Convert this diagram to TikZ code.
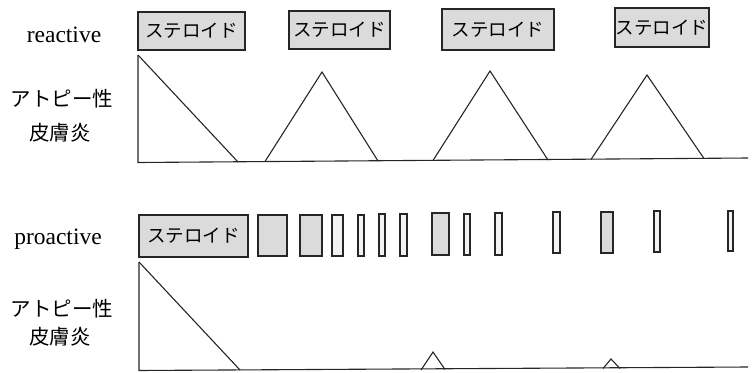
\documentclass[tikz,border=0pt]{standalone}
\usepackage{fontspec}
\setmainfont{Liberation Serif}
\newfontfamily\jp{Noto Sans CJK JP}
\begin{document}
\begin{tikzpicture}[x=1pt,y=-1pt,
  ln/.style={line width=1.1pt, black!85},
  sbox/.style={draw=black!85, line width=1.1pt, fill=gray!28, inner sep=0pt, font=\jp\fontsize{18.5}{18.5}\selectfont},
  lbox/.style={draw=black!85, line width=1.1pt, fill=gray!10, inner sep=0pt},
  eng/.style={font=\fontsize{23.5}{23.5}\selectfont, inner sep=0pt},
  jlab/.style={font=\jp\fontsize{20.5}{20.5}\selectfont, inner sep=0pt}]
\useasboundingbox (0,0) rectangle (752,372);
% reactive row
\node[eng] (reactive) at (64,35) {reactive};
\node[jlab] (atopyA) at (62,99) {アトピー性};
\node[jlab] (hifuA) at (60,133) {皮膚炎};
\node[sbox, minimum width=107pt, minimum height=38pt] (r1) at (191.5,31) {ステロイド};
\node[sbox, minimum width=101pt, minimum height=38pt] (r2) at (339.5,30) {ステロイド};
\node[sbox, minimum width=112pt, minimum height=41pt] (r3) at (498,29.5) {ステロイド};
\node[sbox, minimum width=94pt, minimum height=39pt] (r4) at (662,27.5) {ステロイド};
\draw[ln] (138,55) -- (138,162.5) -- (748,158);
\draw[ln] (138,55) -- (238,162);
\draw[ln] (265,161.5) -- (322,72) -- (378,161);
\draw[ln] (433,160.5) -- (490,71) -- (548,160);
\draw[ln] (591,159.5) -- (647,75) -- (704,158.5);
% proactive row
\node[eng] (proactive) at (58,239) {proactive};
\node[jlab] (atopyB) at (62,309) {アトピー性};
\node[jlab] (hifuB) at (60,337) {皮膚炎};
\node[sbox, minimum width=109pt, minimum height=42pt] (p1) at (193.5,236) {ステロイド};
\foreach \cx/\cy/\w/\h/\st [count=\i from 2] in {
  272.5/235.5/29/41/sbox, 311/235.5/22/41/sbox, 337.5/235.5/11/41/lbox,
  361/235.5/6/41/lbox, 382/235/6/42/lbox, 403.5/235/7/42/lbox,
  440.5/234/17/42/sbox, 467/234.5/6/41/lbox, 498.5/234/7/42/lbox,
  556.5/232.5/7/41/lbox, 607/232.5/12/41/sbox, 657/231.5/6/41/lbox,
  730.5/231/5/40/lbox}
  \node[\st, minimum width=\w pt, minimum height=\h pt] (p\i) at (\cx,\cy) {};
\draw[ln] (139,262) -- (139,370.5) -- (748,367);
\draw[ln] (139,262) -- (240,370);
\draw[ln] (421,370) -- (433,352) -- (445,369.5);
\draw[ln] (603,368.5) -- (611,359) -- (620,368.5);
\end{tikzpicture}
\end{document}
